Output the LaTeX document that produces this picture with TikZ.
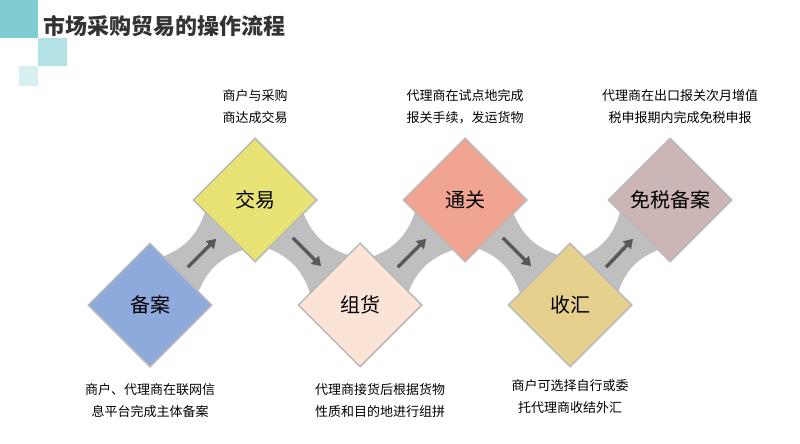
\documentclass[tikz,border=0pt]{standalone}
\usepackage{fontspec}
\setmainfont{Noto Sans CJK SC}
\usetikzlibrary{arrows.meta,shapes.geometric,calc}

\definecolor{tealA}{HTML}{7FCDD3}
\definecolor{tealB}{HTML}{B4E1E5}
\definecolor{tealC}{HTML}{D8EFF1}
\definecolor{stepA}{HTML}{8EA9DB}
\definecolor{stepB}{HTML}{E9E375}
\definecolor{stepC}{HTML}{FBE4D6}
\definecolor{stepD}{HTML}{F1A591}
\definecolor{stepE}{HTML}{E6D08E}
\definecolor{stepF}{HTML}{CBB5B5}
\definecolor{bandgray}{HTML}{BFBFBF}
\definecolor{arrowgray}{HTML}{595959}

\tikzset{
  stage/.style={diamond, aspect=1, minimum width=124pt, minimum height=124pt,
    inner sep=0pt, draw=gray!55, line width=1.5pt, font=\fontsize{20}{24}\selectfont},
  note/.style={align=center, font=\fontsize{13}{22}\selectfont},
  flow/.style={-{Triangle[length=9pt,width=11pt]}, arrowgray, line width=3.5pt}
}

\begin{document}
\begin{tikzpicture}[x=1pt,y=-1pt]
    \useasboundingbox (0,0) rectangle (800,444);

    % Corner squares and title
    \fill[tealA] (0,0) rectangle (38,38);
    \fill[tealB] (38,38) rectangle (67,66);
    \fill[tealC] (19,66) rectangle (38,86);
    \node[anchor=west, font=\fontsize{22}{26}\selectfont\bfseries, text=black!80] (title) at (40,26) {市场采购贸易的操作流程};

    % Stage centres
    \coordinate (cA) at (150,305);
    \coordinate (cB) at (255,200);
    \coordinate (cC) at (360,305);
    \coordinate (cD) at (465,200);
    \coordinate (cE) at (570,305);
    \coordinate (cF) at (670,200);

    % Bands going up
    \foreach \p/\q in {cA/cB, cC/cD, cE/cF}
        \fill[bandgray]
            ($(\p)+(12,-48)$) to[bend right=25] ($(\q)+(-50,12)$)
            -- ($(\q)+(-12,50)$) to[bend right=25] ($(\p)+(48,-12)$) -- cycle;
    % Bands going down
    \foreach \p/\q in {cB/cC, cD/cE}
        \fill[bandgray]
            ($(\p)+(48,12)$) to[bend right=25] ($(\q)+(-12,-50)$)
            -- ($(\q)+(-50,-12)$) to[bend right=25] ($(\p)+(12,48)$) -- cycle;

    \node[stage, fill=stepA] (beian) at (cA) {备案};
    \node[stage, fill=stepB] (jiaoyi) at (cB) {交易};
    \node[stage, fill=stepC] (zuhuo) at (cC) {组货};
    \node[stage, fill=stepD] (tongguan) at (cD) {通关};
    \node[stage, fill=stepE] (shouhui) at (cE) {收汇};
    \node[stage, fill=stepF] (mianshui) at (cF) {免税备案};

    % Arrows
    \foreach \p/\q in {beian/jiaoyi, jiaoyi/zuhuo, zuhuo/tongguan, tongguan/shouhui, shouhui/mianshui}
        \draw[flow] ($(\p)!0.36!(\q)$) -- ($(\p)!0.63!(\q)$);

    % Notes
    \node[note] (nB) at (255,107) {商户与采购\\商达成交易};
    \node[note] (nD) at (465,107) {代理商在试点地完成\\报关手续，发运货物};
    \node[note] (nF) at (680,107) {代理商在出口报关次月增值\\税申报期内完成免税申报};
    \node[note] (nA) at (150,401) {商户、代理商在联网信\\息平台完成主体备案};
    \node[note] (nC) at (380,401) {代理商接货后根据货物\\性质和目的地进行组拼};
    \node[note] (nE) at (570,397) {商户可选择自行或委\\托代理商收结外汇};
\end{tikzpicture}
\end{document}
